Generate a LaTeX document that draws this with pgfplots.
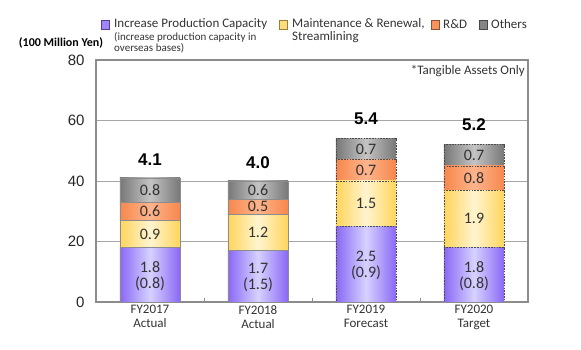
\documentclass[border=0pt]{standalone}
\usepackage{pgfplots}
\pgfplotsset{compat=1.18}
\usepackage{fontspec}
\setmainfont{Carlito}
\newfontfamily\arialfont{Liberation Sans}
\definecolor{purpE}{HTML}{8A68F5}
\definecolor{purpM}{HTML}{D6D2FF}
\definecolor{yelE}{HTML}{FFD55C}
\definecolor{yelM}{HTML}{FFF4CF}
\definecolor{oraE}{HTML}{F7874C}
\definecolor{oraM}{HTML}{FDB48C}
\definecolor{graE}{HTML}{787878}
\definecolor{graM}{HTML}{C4C4C4}
\definecolor{frame}{HTML}{8C8C8C}
\definecolor{txt}{HTML}{333333}
\pgfplotsset{
  base/.style={at={(96pt,48pt)}, anchor=south west, scale only axis,
    width=432pt, height=242pt, xmin=-0.5, xmax=3.5, ymin=0, ymax=80},
  catax/.style={base, hide axis, ybar stacked, bar width=0.556},
  purp/.style={left color=purpE, right color=purpE, middle color=purpM},
  yel/.style={left color=yelE, right color=yelE, middle color=yelM},
  ora/.style={left color=oraE, right color=oraE, middle color=oraM},
  gra/.style={left color=graE, right color=graE, middle color=graM},
  solidb/.style={draw=frame, line width=0.7pt},
  dashb/.style={draw=black!70, line width=0.7pt, dash pattern=on 1.6pt off 1.2pt},
}
\begin{document}
\begin{tikzpicture}[x=1pt,y=1pt]
\path[use as bounding box] (0,0) rectangle (581,350);
% frame, grid, ticks and FY2017 bar
\begin{axis}[base, ybar stacked, bar width=0.556,
  axis line style={draw=frame, line width=1.2pt},
  ytick={0,20,...,80}, ymajorgrids, grid style={draw=black!35, line width=0.9pt},
  major tick length=0pt, tick pos=left,
  /pgf/number format/assume math mode=true,
  yticklabel style={font=\arialfont\fontsize{15}{15}\selectfont, text=black!85, xshift=-8pt},
  xtick={0,1,2,3},
  xticklabels={{FY2017\\Actual},{FY2018\\Actual},{FY2019\\Forecast},{FY2020\\Target}},
  xticklabel style={font=\fontsize{13}{14}\selectfont, align=center, text=txt},
  minor xtick={0.5,1.5,2.5}, minor tick length=4pt,
  minor tick style={draw=frame, line width=0.8pt},
]
\addplot[purp, solidb] coordinates {(0,18)};
\addplot[yel, solidb] coordinates {(0,9)};
\addplot[ora, solidb] coordinates {(0,6)};
\addplot[gra, solidb] coordinates {(0,8)};
\end{axis}
% FY2018
\begin{axis}[catax]
\addplot[purp, solidb] coordinates {(1,17)};
\addplot[yel, solidb] coordinates {(1,12)};
\addplot[ora, solidb] coordinates {(1,5)};
\addplot[gra, solidb] coordinates {(1,6)};
\end{axis}
% FY2019
\begin{axis}[catax]
\addplot[purp, dashb] coordinates {(2,25)};
\addplot[yel, dashb] coordinates {(2,15)};
\addplot[ora, dashb] coordinates {(2,7)};
\addplot[gra, dashb] coordinates {(2,7)};
\end{axis}
% FY2020
\begin{axis}[catax]
\addplot[purp, dashb] coordinates {(3,18)};
\addplot[yel, dashb] coordinates {(3,19)};
\addplot[ora, dashb] coordinates {(3,8)};
\addplot[gra, dashb] coordinates {(3,7)};
\end{axis}
% labels
\begin{axis}[base, hide axis]
\addplot[draw=none, nodes near coords, point meta=explicit symbolic,
  every node near coord/.style={anchor=center, align=center,
    font=\fontsize{16}{16}\selectfont, text=txt}]
coordinates {
 (0,8.5)[1.8\\(0.8)] (0,22.5)[0.9] (0,30)[0.6] (0,37)[0.8]
 (1,8)[1.7\\(1.5)] (1,23)[1.2] (1,31.5)[0.5] (1,37)[0.6]
 (2,12)[2.5\\(0.9)] (2,32.5)[1.5] (2,43.5)[0.7] (2,50.5)[0.7]
 (3,8.5)[1.8\\(0.8)] (3,27.5)[1.9] (3,41)[0.8] (3,48.5)[0.7]
};
\addplot[draw=none, nodes near coords, point meta=explicit symbolic,
  every node near coord/.style={anchor=center,
    font=\arialfont\bfseries\fontsize{17}{17}\selectfont, text=black}]
coordinates {(0,47)[4.1] (1,46)[4.0] (2,60.5)[5.4] (3,58.5)[5.2]};
\end{axis}
% annotations
\node[anchor=east, inner sep=0, font=\fontsize{13}{13}\selectfont, text=txt] at (525,279) {*Tangible Assets Only};
\node[anchor=center, inner sep=0, font=\bfseries\fontsize{12}{12}\selectfont] at (61,307) {(100 Million Yen)};
% legend
\tikzset{lbox/.style={draw=#1!60!black, line width=0.6pt}}
\draw[lbox=purpE, fill=purpE!80!white] (101,321) rectangle (109,330);
\node[anchor=west, inner sep=0, font=\fontsize{13}{13}\selectfont, text=txt] at (114,326) {Increase Production Capacity};
\node[anchor=north west, inner sep=0, align=left, font=\fontsize{11}{11}\selectfont, text=txt] at (114,318) {(increase production capacity in\\overseas bases)};
\draw[lbox=yelE, fill=yelE!80!white] (279,321) rectangle (287,330);
\node[anchor=west, inner sep=0, font=\fontsize{13}{13}\selectfont, text=txt] at (292,326) {Maintenance \& Renewal,};
\node[anchor=west, inner sep=0, font=\fontsize{13}{13}\selectfont, text=txt] at (292,313) {Streamlining};
\draw[lbox=oraE, fill=oraE!90!white] (431,321) rectangle (439,330);
\node[anchor=west, inner sep=0, font=\fontsize{13}{13}\selectfont, text=txt] at (443,326) {R\&D};
\draw[lbox=graE, fill=graE!90!white] (479,321) rectangle (487,330);
\node[anchor=west, inner sep=0, font=\fontsize{13}{13}\selectfont, text=txt] at (491,326) {Others};
\end{tikzpicture}
\end{document}
